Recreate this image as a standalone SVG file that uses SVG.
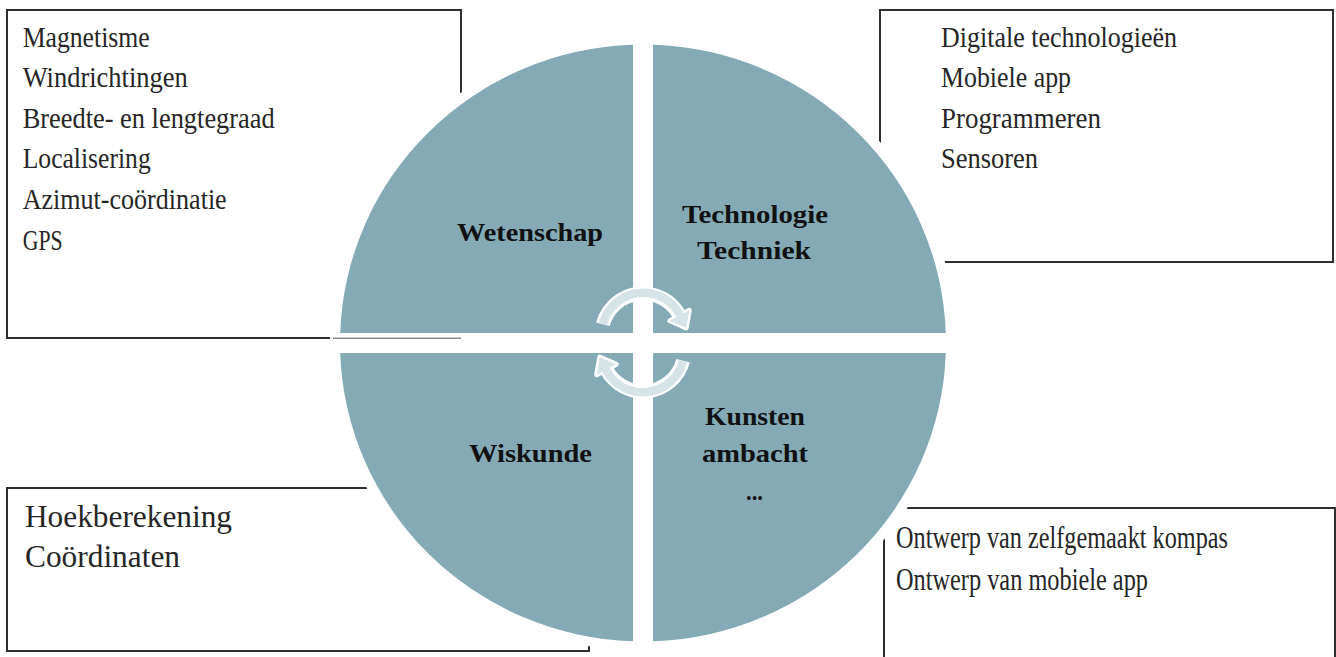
<svg xmlns="http://www.w3.org/2000/svg" width="1336" height="657" viewBox="0 0 1336 657">
  <style>
    .box { fill: #ffffff; stroke: #2e2e2e; stroke-width: 2; }
    .item { font-family: "Liberation Serif", "DejaVu Serif", serif; fill: #262626; }
    .s27 { font-size: 28.5px; }
    .s30 { font-size: 31px; }
    .quad { fill: #84abb5; }
    .label { font-family: "Liberation Serif", "DejaVu Serif", serif; font-weight: bold; font-size: 26px; fill: #111111; }
    .cyc-edge { fill: none; stroke: #ffffff; stroke-width: 14; }
    .cyc-body { fill: none; stroke: #d6e4e8; stroke-width: 8.5; }
    .head-edge { fill: #ffffff; stroke: #ffffff; stroke-width: 5; stroke-linejoin: round; }
    .head-body { fill: #d6e4e8; }
  </style>

  <defs>
    <!-- one curved arrow; the lower one is the same shape turned half a turn -->
    <g id="cycle-arrow">
      <path class="cyc-edge" d="M602.9 324.3 A41.5 41.5 0 0 1 679.6 315.5"/>
      <polygon class="head-edge" points="689.3,310.3 686.2,327.9 669.9,320.7"/>
      <path class="cyc-body" d="M602.9 324.3 A41.5 41.5 0 0 1 680.5 316"/>
      <polygon class="head-body" points="689.3,310.3 686.2,327.9 669.9,320.7"/>
    </g>
  </defs>

  <!-- text boxes around the wheel -->
  <g id="box-wetenschap">
    <rect class="box" x="7" y="10" width="454" height="328"/>
    <text class="item s27" x="22.7" y="47" textLength="127" lengthAdjust="spacingAndGlyphs">Magnetisme</text>
    <text class="item s27" x="22.7" y="87" textLength="165" lengthAdjust="spacingAndGlyphs">Windrichtingen</text>
    <text class="item s27" x="22.7" y="128" textLength="252" lengthAdjust="spacingAndGlyphs">Breedte- en lengtegraad</text>
    <text class="item s27" x="22.7" y="168" textLength="128" lengthAdjust="spacingAndGlyphs">Localisering</text>
    <text class="item s27" x="22.7" y="209" textLength="204" lengthAdjust="spacingAndGlyphs">Azimut-coördinatie</text>
    <text class="item s27" x="22.7" y="250" textLength="40" lengthAdjust="spacingAndGlyphs">GPS</text>
  </g>

  <g id="box-technologie">
    <rect class="box" x="880" y="10" width="453" height="252"/>
    <text class="item s27" x="941" y="47" textLength="236" lengthAdjust="spacingAndGlyphs">Digitale technologieën</text>
    <text class="item s27" x="941" y="87" textLength="130" lengthAdjust="spacingAndGlyphs">Mobiele app</text>
    <text class="item s27" x="941" y="128" textLength="160" lengthAdjust="spacingAndGlyphs">Programmeren</text>
    <text class="item s27" x="941" y="168" textLength="97" lengthAdjust="spacingAndGlyphs">Sensoren</text>
  </g>

  <g id="box-wiskunde">
    <rect class="box" x="7" y="488" width="582" height="163"/>
    <text class="item s30" x="25" y="527" textLength="207" lengthAdjust="spacingAndGlyphs">Hoekberekening</text>
    <text class="item s30" x="25" y="567" textLength="155" lengthAdjust="spacingAndGlyphs">Coördinaten</text>
  </g>

  <g id="box-kunsten">
    <rect class="box" x="884" y="508" width="451" height="170"/>
    <text class="item s30" x="896" y="548" textLength="332" lengthAdjust="spacingAndGlyphs">Ontwerp van zelfgemaakt kompas</text>
    <text class="item s30" x="896" y="590" textLength="252" lengthAdjust="spacingAndGlyphs">Ontwerp van mobiele app</text>
  </g>

  <!-- white rim around the wheel -->
  <ellipse cx="643" cy="343" rx="313" ry="308" fill="#ffffff"/>
  <!-- lower border of the top-left box, seen through the horizontal gap -->
  <line x1="333" y1="338.3" x2="461" y2="338.3" stroke="#8a8a8a" stroke-width="1.5"/>

  <!-- wheel quadrants -->
  <g id="q-wetenschap">
    <path class="quad" d="M633 333 H340.2 A303 298.5 0 0 1 633 44.7 Z"/>
    <text class="label" x="457" y="241" textLength="146" lengthAdjust="spacingAndGlyphs">Wetenschap</text>
  </g>
  <g id="q-technologie">
    <path class="quad" d="M653 333 V44.7 A303 298.5 0 0 1 945.8 333 Z"/>
    <text class="label" x="682" y="223" textLength="146" lengthAdjust="spacingAndGlyphs">Technologie</text>
    <text class="label" x="697" y="259" textLength="114" lengthAdjust="spacingAndGlyphs">Techniek</text>
  </g>
  <g id="q-kunsten">
    <path class="quad" d="M653 353 H945.8 A303 298.5 0 0 1 653 641.3 Z"/>
    <text class="label" x="705" y="425" textLength="100" lengthAdjust="spacingAndGlyphs">Kunsten</text>
    <text class="label" x="702" y="462" textLength="106" lengthAdjust="spacingAndGlyphs">ambacht</text>
    <text class="label" x="746" y="500" textLength="17" lengthAdjust="spacingAndGlyphs">...</text>
  </g>
  <g id="q-wiskunde">
    <path class="quad" d="M633 353 V641.3 A303 298.5 0 0 1 340.2 353 Z"/>
    <text class="label" x="469" y="462" textLength="123" lengthAdjust="spacingAndGlyphs">Wiskunde</text>
  </g>

  <!-- circular arrows in the middle -->
  <g id="connectors">
    <use href="#cycle-arrow"/>
    <use href="#cycle-arrow" transform="rotate(180 643 342.5)"/>
  </g>
</svg>
